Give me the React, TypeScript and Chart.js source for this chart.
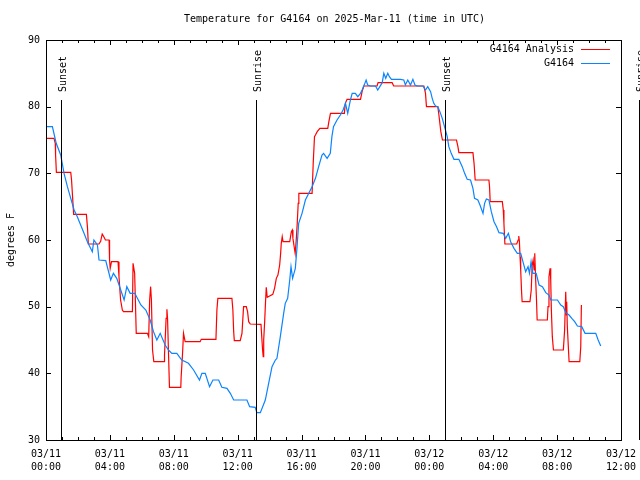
import React, { useEffect, useRef } from 'react';
import { Chart, registerables } from 'chart.js';

Chart.register(...registerables);

const FONT = "'DejaVu Sans Mono', monospace";

const chartTitle = 'Temperature for G4164 on 2025-Mar-11 (time in UTC)';
const yTitle = 'degrees F';
const seriesNames = ['G4164 Analysis', 'G4164'];

const xTickHours = [0, 4, 8, 12, 16, 20, 24, 28, 32, 36];
const xTickLabels = [
  ['03/11', '00:00'], ['03/11', '04:00'], ['03/11', '08:00'], ['03/11', '12:00'],
  ['03/11', '16:00'], ['03/11', '20:00'], ['03/12', '00:00'], ['03/12', '04:00'],
  ['03/12', '08:00'], ['03/12', '12:00'],
];
const yTicks = [30, 40, 50, 60, 70, 80, 90];

const sunTimes = [0.97, 13.12, 24.97, 37.12];
const sunLabels = ['Sunset', 'Sunrise', 'Sunset', 'Sunrise'];

// Analysis (red), hours since 03/11 00:00 UTC
const analysisTimes = [
  0, 0.5, 0.58, 0.6, 0.65, 1.55, 1.6, 1.65, 1.73, 2.53, 2.6, 2.65, 3.32, 3.42, 3.52, 3.62, 3.72, 3.95, 3.98, 4.02,
  4.1, 4.51, 4.57, 4.67, 4.78, 4.85, 5.41, 5.45, 5.55, 5.65, 6.35, 6.43, 6.49, 6.55, 6.6, 6.67, 6.75, 7.4, 7.42, 7.52,
  7.57, 7.61, 7.67, 7.73, 8.44, 8.46, 8.55, 8.61, 8.65, 8.71, 9.65, 9.72, 10.64, 10.7, 10.76, 11.64, 11.7, 11.75, 11.79, 12.16,
  12.27, 12.37, 12.54, 12.62, 12.69, 12.79, 13.46, 13.52, 13.56, 13.6, 13.63, 13.69, 13.75, 13.79, 13.85, 14.0, 14.2, 14.31, 14.42, 14.52,
  14.63, 14.69, 14.73, 14.79, 14.84, 15.26, 15.36, 15.42, 15.46, 15.52, 15.6, 15.66, 15.73, 15.79, 15.83, 16.66, 16.73, 16.81, 16.87, 16.98,
  17.15, 17.64, 17.71, 17.81, 18.68, 18.74, 18.85, 19.69, 19.79, 19.9, 20.73, 20.79, 21.67, 21.77, 23.66, 23.76, 23.82, 24.53, 24.6, 24.72,
  24.82, 25.7, 25.79, 25.85, 26.73, 26.8, 26.87, 27.73, 27.77, 27.81, 28.57, 28.63, 28.67, 28.73, 29.47, 29.56, 29.6, 29.64, 29.68, 29.72,
  29.77, 29.81, 30.3, 30.38, 30.44, 30.5, 30.56, 30.6, 30.65, 30.71, 30.75, 31.39, 31.43, 31.49, 31.56, 31.6, 31.64, 31.7, 31.77, 32.39,
  32.47, 32.54, 32.58, 32.6, 32.64, 32.75, 33.42, 33.48, 33.52,
];
const analysisTemps = [
  75.25, 75.25, 74.5, 72.75, 70.15, 70.15, 69, 67, 63.85, 63.85, 61.75, 59.4, 59.4, 59.8, 60.9, 60.5, 60, 60, 57, 55.75,
  56.75, 56.75, 54.5, 51, 49.5, 49.25, 49.25, 56.5, 55, 46, 46, 45.5, 51, 53, 51, 43.5, 41.75, 41.75, 42.75, 48.25,
  49.6, 48.25, 43, 37.9, 37.9, 39.4, 43, 46, 45.5, 44.75, 44.75, 45.1, 45.1, 49.5, 51.25, 51.25, 49.5, 46.25, 44.9, 44.9,
  46, 50, 50, 49.25, 47.75, 47.4, 47.35, 45, 43.5, 42.5, 45, 47.75, 51, 52.9, 51.4, 51.6, 51.85, 52.75, 54.25, 54.75,
  56.25, 58, 59.5, 60.5, 59.75, 59.75, 61.25, 61.5, 60.25, 59.25, 58, 59.75, 62.5, 65.5, 67, 67, 71.5, 75.5, 75.75, 76.25,
  76.75, 76.75, 77.75, 79, 79, 80.5, 81.1, 81.1, 82.25, 83.1, 83.1, 83.6, 83.6, 83.1, 83.1, 82, 80, 80, 78.75, 76.25,
  75, 75, 74, 73.1, 73.1, 71.5, 69, 69, 68, 65.75, 65.75, 64.5, 62.5, 59.4, 59.4, 60, 60.6, 59.75, 57.5, 55.5,
  52.5, 50.75, 50.75, 52.5, 56.25, 57, 55.5, 58, 54.5, 51, 48, 48, 50, 54.5, 55.75, 54, 49.5, 45.5, 43.5, 43.5,
  46.5, 52.25, 48.75, 50.75, 47, 41.75, 41.75, 44, 50.25,
];

// Observations (blue)
const obsTimes = [
  0, 0.4, 0.52, 0.64, 0.92, 1.13, 1.34, 1.55, 1.76, 1.96, 2.17, 2.38, 2.59, 2.9, 3.0, 3.22, 3.32, 3.74, 4.05, 4.22,
  4.43, 4.68, 4.89, 5.06, 5.27, 5.56, 5.94, 6.25, 6.52, 6.73, 6.94, 7.15, 7.46, 7.67, 7.88, 8.19, 8.5, 8.92, 9.24, 9.61,
  9.76, 9.97, 10.24, 10.45, 10.81, 11.01, 11.33, 11.54, 11.75, 12.58, 12.75, 13.1, 13.2, 13.42, 13.73, 13.94, 14.15, 14.36, 14.46, 14.67,
  14.88, 14.98, 15.13, 15.26, 15.34, 15.44, 15.61, 15.72, 15.82, 16.03, 16.24, 16.45, 16.66, 16.87, 17.07, 17.28, 17.38, 17.6, 17.8, 17.9,
  18.0, 18.22, 18.43, 18.6, 18.75, 18.89, 19.06, 19.17, 19.37, 19.52, 19.69, 19.79, 19.94, 20.04, 20.14, 20.31, 20.63, 20.77, 20.9, 21.05,
  21.15, 21.27, 21.4, 21.5, 21.63, 22.19, 22.4, 22.5, 22.65, 22.82, 22.97, 23.1, 23.24, 23.6, 23.76, 23.9, 24.08, 24.18, 24.28, 24.39,
  24.53, 24.66, 24.81, 24.95, 25.12, 25.22, 25.37, 25.54, 25.85, 26.06, 26.21, 26.37, 26.58, 26.73, 26.83, 27.04, 27.17, 27.36, 27.46, 27.57,
  27.73, 27.88, 28.05, 28.21, 28.36, 28.63, 28.78, 28.95, 29.09, 29.3, 29.51, 29.72, 29.89, 30.03, 30.18, 30.27, 30.37, 30.48, 30.69, 30.87,
  31.08, 31.29, 31.49, 31.6, 32.02, 32.23, 32.39, 32.54, 32.75, 32.92, 33.1, 33.27, 33.54, 33.75, 34.42, 34.57, 34.73,
];
const obsTemps = [
  77, 77, 75.75, 74.5, 72.75, 70, 68, 66.25, 64.5, 63.5, 62.25, 61, 59.75, 58.25, 60, 59.25, 57, 56.9, 54, 55,
  54.25, 52.5, 51, 53, 52, 52, 50.25, 49.5, 48, 46.25, 45, 46, 44.25, 43.5, 43, 43, 42, 41.5, 40.5, 39,
  40, 40, 38, 39, 39, 37.9, 37.75, 37, 36, 36, 35, 34.9, 34.1, 34.1, 36, 38.5, 41, 42, 42.25, 45.5,
  49, 50.5, 51.25, 54, 56, 54.25, 55.75, 59, 62.5, 64, 66, 67, 68, 69.25, 71, 72.75, 73, 72.25, 73, 75.5,
  77, 78, 78.75, 79.5, 80.5, 79, 81, 82, 82, 81.5, 82, 82.5, 83.35, 84, 83.25, 83.1, 83.1, 82.5, 83, 83.6,
  85, 84.25, 85, 84.5, 84.1, 84.1, 84, 83.25, 84, 83.25, 84.1, 83.25, 83.1, 83.1, 82.5, 83, 82.25, 81.25, 80.5, 80.1,
  80, 79.25, 78.25, 77, 75.5, 74, 73, 72.1, 72.1, 71, 70, 69.1, 69, 67.75, 66.25, 66, 65.25, 64, 65.5, 66.15,
  66, 64.25, 62.75, 62, 61.1, 61, 60.25, 61, 59.75, 58.75, 58, 58, 56.5, 55.25, 56, 55, 56.75, 55, 55, 53.25,
  53, 52.1, 51.75, 51, 51, 50.25, 50, 49.1, 48.75, 48.25, 47.75, 47.1, 47, 46, 46, 45, 44.1,
];

const RED = '#ff0000';
const BLUE = '#0a84ff';

const decorPlugin = {
  id: 'gnuplotDecor',
  afterDraw(chart: any) {
    const ctx = chart.ctx;
    const { left: L, right: R, top: T, bottom: B } = chart.chartArea;
    const xs = chart.scales.x;
    const ys = chart.scales.y;
    ctx.save();
    ctx.strokeStyle = '#000';
    ctx.lineWidth = 1;
    // frame
    ctx.strokeRect(Math.round(L) + 0.5, Math.round(T) + 0.5, Math.round(R - L), Math.round(B - T));
    // x ticks (hourly minor, 4-hourly major), bottom and top
    ctx.beginPath();
    for (let h = 0; h <= 36; h++) {
      const px = Math.round(xs.getPixelForValue(h)) + 0.5;
      const len = h % 4 === 0 ? 5 : 3;
      ctx.moveTo(px, B);
      ctx.lineTo(px, B - len);
      ctx.moveTo(px, T);
      ctx.lineTo(px, T + len);
    }
    for (const v of yTicks) {
      const py = Math.round(ys.getPixelForValue(v)) + 0.5;
      ctx.moveTo(L, py);
      ctx.lineTo(L + 5, py);
      ctx.moveTo(R, py);
      ctx.lineTo(R - 5, py);
    }
    ctx.stroke();

    // sunrise / sunset markers
    ctx.font = `10px ${FONT}`;
    ctx.fillStyle = '#000';
    sunTimes.forEach((t, i) => {
      const px = Math.round(xs.getPixelForValue(t)) + 0.5;
      ctx.beginPath();
      ctx.moveTo(px, T + 60);
      ctx.lineTo(px, B);
      ctx.stroke();
      ctx.save();
      ctx.translate(px + 4, T + 52);
      ctx.rotate(-Math.PI / 2);
      ctx.textAlign = 'left';
      ctx.textBaseline = 'alphabetic';
      ctx.fillText(sunLabels[i], 0, 0);
      ctx.restore();
    });

    // title
    ctx.textAlign = 'center';
    ctx.textBaseline = 'middle';
    ctx.fillText(chartTitle, (L + R) / 2 + 1, 19);

    // y title
    ctx.save();
    ctx.translate(11, (T + B) / 2);
    ctx.rotate(-Math.PI / 2);
    ctx.textAlign = 'center';
    ctx.textBaseline = 'middle';
    ctx.fillText(yTitle, 0, 0);
    ctx.restore();

    // legend
    const colors = [RED, BLUE];
    seriesNames.forEach((name, i) => {
      const y = 49 + i * 14;
      ctx.fillStyle = '#000';
      ctx.textAlign = 'right';
      ctx.textBaseline = 'middle';
      ctx.fillText(name, R - 47, y);
      ctx.strokeStyle = colors[i];
      ctx.beginPath();
      ctx.moveTo(R - 40, y + 0.5);
      ctx.lineTo(R - 11, y + 0.5);
      ctx.stroke();
    });
    ctx.restore();
  },
};

export default function App() {
  const ref = useRef<HTMLCanvasElement | null>(null);
  useEffect(() => {
    if (!ref.current) return;
    const chart = new Chart(ref.current, {
      type: 'line',
      data: {
        datasets: [
          {
            label: seriesNames[0],
            data: analysisTimes.map((t, i) => ({ x: t, y: analysisTemps[i] })),
            borderColor: RED,
            borderWidth: 1.2,
            pointRadius: 0,
            tension: 0,
            fill: false,
            order: 1,
          },
          {
            label: seriesNames[1],
            data: obsTimes.map((t, i) => ({ x: t, y: obsTemps[i] })),
            borderColor: BLUE,
            borderWidth: 1.2,
            pointRadius: 0,
            tension: 0,
            fill: false,
            order: 0,
          },
        ],
      },
      options: {
        animation: false,
        responsive: false,
        devicePixelRatio: 1,
        layout: { padding: { top: 40, right: 19, left: 0, bottom: 0 } },
        plugins: { legend: { display: false }, title: { display: false }, tooltip: { enabled: false } },
        scales: {
          x: {
            type: 'linear',
            min: 0,
            max: 36,
            grid: { display: false, drawTicks: false },
            border: { display: false },
            afterBuildTicks: (axis: any) => {
              axis.ticks = xTickHours.map((v) => ({ value: v }));
            },
            afterFit: (axis: any) => {
              axis.height = 40;
              axis.paddingLeft = 0;
              axis.paddingRight = 0;
            },
            ticks: {
              autoSkip: false,
              maxRotation: 0,
              minRotation: 0,
              padding: 8,
              color: '#000',
              font: { family: FONT, size: 10, lineHeight: 1.3 },
              callback: (_v: any, i: number) => xTickLabels[i],
            },
          },
          y: {
            type: 'linear',
            min: 30,
            max: 90,
            grid: { display: false, drawTicks: false },
            border: { display: false },
            afterBuildTicks: (axis: any) => {
              axis.ticks = yTicks.map((v) => ({ value: v }));
            },
            afterFit: (axis: any) => {
              axis.width = 46;
              axis.paddingTop = 0;
              axis.paddingBottom = 0;
            },
            ticks: {
              padding: 6,
              color: '#000',
              font: { family: FONT, size: 10 },
              callback: (v: any) => String(v),
            },
          },
        },
      },
      plugins: [decorPlugin],
    });
    return () => chart.destroy();
  }, []);
  return (
    <div style={{ position: 'absolute', left: 0, top: 0, width: 640, height: 480, background: '#fff' }}>
      <canvas ref={ref} width={640} height={480} />
    </div>
  );
}
